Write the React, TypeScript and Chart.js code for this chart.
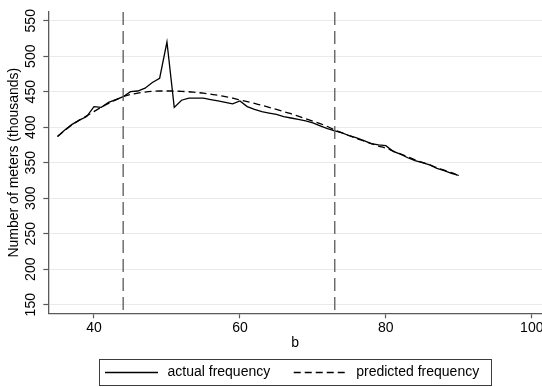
import React, { useEffect, useRef } from "react";
import { Chart, registerables } from "chart.js";

Chart.register(...registerables);

// ---- data ----
const bValues = [
  35, 36, 37, 38, 39, 40, 41, 42, 43, 44, 45, 46, 47, 48, 49, 50, 51, 52, 53, 54,
  55, 56, 57, 58, 59, 60, 61, 62, 63, 64, 65, 66, 67, 68, 69, 70, 71, 72, 73, 74,
  75, 76, 77, 78, 79, 80, 81, 82, 83, 84, 85, 86, 87, 88, 89, 90,
];
const actualFrequency = [
  387, 396, 404, 410, 415, 429, 428, 435, 439, 443, 450, 451, 455, 463, 469, 520, 428, 438, 441, 441,
  441, 439, 437, 435, 433, 437, 429, 425, 422, 420, 418, 415, 413, 411, 409, 406, 402, 398, 395, 392,
  388, 385, 381, 377, 375, 374, 366, 362, 357, 353, 350, 347, 342, 339, 335, 332,
];
const predictedFrequency = [
  387, 395.5, 403.5, 410, 416, 422, 428, 433.5, 438.5, 443, 446, 448, 449.5, 450.5, 451, 451, 451, 450.5, 450, 449,
  448, 446.5, 445, 443, 441, 438.5, 436, 433.5, 431, 428, 425, 422, 419, 415.5, 412, 408.5, 405, 401, 396, 392,
  388, 384, 380.5, 377, 373.5, 370.5, 366.5, 362.5, 358.5, 354, 350.5, 347, 343, 339.5, 336, 332,
];
const cutoffLines = [44, 73];
const xTicks = [40, 60, 80, 100];
const yTicks = [150, 200, 250, 300, 350, 400, 450, 500, 550];
const xRange = [33.74, 101.4];
const yRange = [137.9, 562.3];
const seriesLabels = ["actual frequency", "predicted frequency"];
const xTitle = "b";
const yTitle = "Number of meters (thousands)";

const FONT_FAMILY = '"Liberation Sans", Arial, Helvetica, sans-serif';
const AXIS_GRAY = "#5a5a5a";

const cutoffPlugin = {
  id: "cutoffLines",
  afterDatasetsDraw(chart: any) {
    const { ctx, chartArea, scales } = chart;
    ctx.save();
    ctx.strokeStyle = "#595959";
    ctx.lineWidth = 1.3;
    ctx.setLineDash([13, 6]);
    cutoffLines.forEach((v) => {
      const x = scales.x.getPixelForValue(v);
      ctx.beginPath();
      ctx.moveTo(x, chartArea.top);
      ctx.lineTo(x, chartArea.bottom);
      ctx.stroke();
    });
    ctx.restore();
  },
};

const legendPlugin = {
  id: "boxedLegend",
  afterDraw(chart: any) {
    const { ctx, chartArea } = chart;
    ctx.save();
    ctx.font = `14px ${FONT_FAMILY}`;
    const w1 = ctx.measureText(seriesLabels[0]).width;
    const w2 = ctx.measureText(seriesLabels[1]).width;
    const padL = 5.5, lineLen = 53, gap = 9.5, itemGap = 23.5, padR = 12;
    const total = padL + lineLen + gap + w1 + itemGap + lineLen + gap + w2 + padR;
    const cx = (chartArea.left + chartArea.right) / 2;
    const left = Math.round(cx - total / 2) + 0.5;
    const top = 359.5;
    const h = 26;
    const midY = top + h / 2;
    ctx.strokeStyle = "#3c3c3c";
    ctx.lineWidth = 1;
    ctx.strokeRect(left, top, Math.round(total), h);
    // item 1
    let x = left + padL;
    ctx.strokeStyle = "#000";
    ctx.lineWidth = 1.3;
    ctx.setLineDash([]);
    ctx.beginPath();
    ctx.moveTo(x, midY);
    ctx.lineTo(x + lineLen, midY);
    ctx.stroke();
    x += lineLen + gap;
    ctx.fillStyle = "#000";
    ctx.textBaseline = "middle";
    ctx.textAlign = "left";
    ctx.fillText(seriesLabels[0], x, midY);
    x += w1 + itemGap;
    ctx.setLineDash([7, 4]);
    ctx.beginPath();
    ctx.moveTo(x, midY);
    ctx.lineTo(x + lineLen, midY);
    ctx.stroke();
    ctx.setLineDash([]);
    x += lineLen + gap;
    ctx.fillText(seriesLabels[1], x, midY);
    ctx.restore();
  },
};

export default function App() {
  const canvasRef = useRef<HTMLCanvasElement | null>(null);

  useEffect(() => {
    if (!canvasRef.current) return;
    const font = { family: FONT_FAMILY, size: 14 };
    const chart = new Chart(canvasRef.current, {
      type: "line",
      data: {
        datasets: [
          {
            label: seriesLabels[0],
            data: bValues.map((b, i) => ({ x: b, y: actualFrequency[i] })),
            borderColor: "#000",
            borderWidth: 1.3,
            pointRadius: 0,
            tension: 0,
            fill: false,
          },
          {
            label: seriesLabels[1],
            data: bValues.map((b, i) => ({ x: b, y: predictedFrequency[i] })),
            borderColor: "#000",
            borderWidth: 1.3,
            borderDash: [7, 4],
            pointRadius: 0,
            tension: 0.4,
            cubicInterpolationMode: "monotone",
            fill: false,
          },
        ],
      },
      options: {
        animation: false,
        responsive: true,
        maintainAspectRatio: false,
        layout: { padding: { top: 12, left: 0, right: 0, bottom: 35 } },
        plugins: {
          legend: { display: false },
          tooltip: { enabled: false },
        },
        scales: {
          x: {
            type: "linear",
            min: xRange[0],
            max: xRange[1],
            afterBuildTicks: (scale: any) => {
              scale.ticks = xTicks.map((v) => ({ value: v }));
            },
            afterFit: (scale: any) => {
              scale.height = 38.7;
              scale.paddingLeft = 0;
              scale.paddingRight = 0;
            },
            grid: {
              drawOnChartArea: false,
              drawTicks: true,
              tickLength: 5,
              tickColor: AXIS_GRAY,
              tickWidth: 1.2,
            },
            border: { color: AXIS_GRAY, width: 1.3 },
            ticks: {
              color: "#000",
              font,
              padding: 1.5,
              maxRotation: 0,
              autoSkip: false,
              callback: (v: any) => String(v),
            },
            title: {
              display: true,
              text: xTitle,
              color: "#000",
              font,
              padding: { top: 0, bottom: 0 },
            },
          },
          y: {
            type: "linear",
            min: yRange[0],
            max: yRange[1],
            afterBuildTicks: (scale: any) => {
              scale.ticks = yTicks.map((v) => ({ value: v }));
            },
            afterFit: (scale: any) => {
              scale.width = 48.3;
              scale.paddingTop = 0;
              scale.paddingBottom = 0;
            },
            grid: {
              color: "#eaeaea",
              lineWidth: 1,
              drawTicks: true,
              tickLength: 5,
              tickColor: AXIS_GRAY,
              tickWidth: 1.2,
            },
            border: { color: AXIS_GRAY, width: 1.3 },
            ticks: {
              color: "#000",
              font,
              padding: 0,
              minRotation: 90,
              maxRotation: 90,
              crossAlign: "center",
              autoSkip: false,
              callback: (v: any) => String(v),
            },
            title: {
              display: true,
              text: yTitle,
              color: "#000",
              font,
              padding: { top: 6.1, bottom: 0 },
            },
          },
        },
      },
      plugins: [cutoffPlugin, legendPlugin],
    } as any);
    return () => chart.destroy();
  }, []);

  return (
    <div style={{ position: "fixed", left: 0, top: 0, width: 542, height: 387, background: "#fff" }}>
      <canvas ref={canvasRef} />
    </div>
  );
}
